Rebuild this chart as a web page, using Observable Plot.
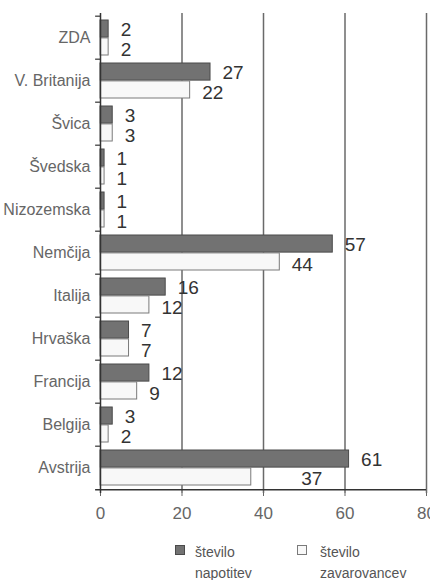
<!DOCTYPE html>
<html>
<head>
<meta charset="utf-8">
<script src="https://cdn.jsdelivr.net/npm/d3@7"></script>
<script src="https://cdn.jsdelivr.net/npm/@observablehq/plot@0.6"></script>
<style>
  html, body { margin: 0; padding: 0; background: #fff; overflow: hidden; }
  #wrap { position: relative; width: 430px; height: 580px; font-family: "Liberation Sans", Arial, sans-serif; }
  [aria-label^="x-axis"] text { font-size: 17px; }
  .legend-item { position: absolute; font-size: 14px; line-height: 21px; color: #555; }
  .legend-swatch { position: absolute; width: 8px; height: 8px; }
</style>
</head>
<body>
<div id="wrap">
  <div id="chart"></div>
</div>
<script>
// Countries from top to bottom
const countries = ["ZDA", "V. Britanija", "Švica", "Švedska", "Nizozemska", "Nemčija", "Italija", "Hrvaška", "Francija", "Belgija", "Avstrija"];
// število napotitev (dark bars)
const napotitve = [2, 27, 3, 1, 1, 57, 16, 7, 12, 3, 61];
// število zavarovancev (white bars)
const zavarovanci = [2, 22, 3, 1, 1, 44, 12, 7, 9, 2, 37];
const xTicks = [0, 20, 40, 60, 80];
const seriesNames = ["število\nnapotitev", "število\nzavarovancev"];

const rows = countries.map((c, i) => ({country: c, nap: napotitve[i], zav: zavarovanci[i]}));

const height = 532, marginTop = 13, marginBottom = 39;
const pInner = 0.18, pOuter = 0.09;
const step = (height - marginTop - marginBottom) / (countries.length - pInner + 2 * pOuter);
const half = step * (1 - pInner) / 2;

const darkFill = "#727272", darkStroke = "#4a4a4a";
const lightFill = "#f8f8f8", lightStroke = "#7a7a7a";

const chart = Plot.plot({
  width: 430,
  height,
  marginTop,
  marginBottom,
  marginLeft: 100,
  marginRight: 4,
  style: {fontFamily: "Liberation Sans, Arial, sans-serif", fontSize: "16px", color: "#666", background: "#fff"},
  x: {domain: [0, 80], ticks: xTicks, tickSize: 3, tickPadding: 10, label: null},
  y: {domain: countries, paddingInner: pInner, paddingOuter: pOuter, tickSize: 0, tickPadding: 10, label: null},
  marks: [
    // vertical grid
    Plot.ruleX(xTicks.slice(1), {stroke: "#6a6a6a", strokeWidth: 1.5}),
    // bars
    Plot.barX(rows, {x: "nap", y: "country", fill: darkFill, stroke: darkStroke, strokeWidth: 1, insetBottom: half}),
    Plot.barX(rows, {x: "zav", y: "country", fill: lightFill, stroke: lightStroke, strokeWidth: 1, insetTop: half}),
    // value labels
    Plot.text(rows, {x: "nap", y: "country", text: d => String(d.nap), dx: 12, dy: -half / 2 + 1, textAnchor: "start", fontSize: 19, fill: "#333"}),
    Plot.text(rows.filter(d => d.country !== "Avstrija"), {x: "zav", y: "country", text: d => String(d.zav), dx: 12, dy: half / 2 + 3, textAnchor: "start", fontSize: 19, fill: "#333"}),
    Plot.text(rows.filter(d => d.country === "Avstrija"), {x: "zav", y: "country", text: d => String(d.zav), dx: 50, dy: half / 2 + 2, textAnchor: "start", fontSize: 19, fill: "#333"}),
    // y axis line and band boundary ticks
    Plot.ruleX([0], {stroke: "#333", strokeWidth: 1.5}),
    Plot.ruleY(countries, {y: d => d, x1: -1.2, x2: 0, dy: -step / 2, stroke: "#333", strokeWidth: 1.2}),
    // bottom axis line
    Plot.ruleY(countries.slice(-1), {y: d => d, x1: -1.2, x2: 80, dy: step / 2, stroke: "#333", strokeWidth: 1.5})
  ]
});
document.getElementById("chart").appendChild(chart);

// legend below the chart
const wrap = document.getElementById("wrap");
const legendItems = [
  {label: seriesNames[0], fill: darkFill, stroke: darkStroke, left: 175, text: 195},
  {label: seriesNames[1], fill: lightFill, stroke: lightStroke, left: 297, text: 320}
];
for (const it of legendItems) {
  const sw = document.createElement("div");
  sw.className = "legend-swatch";
  sw.style.left = it.left + "px";
  sw.style.top = "545px";
  sw.style.background = it.fill;
  sw.style.border = "1px solid " + it.stroke;
  wrap.appendChild(sw);
  const tx = document.createElement("div");
  tx.className = "legend-item";
  tx.style.left = it.text + "px";
  tx.style.top = "542px";
  tx.innerHTML = it.label.split("\n").join("<br>");
  wrap.appendChild(tx);
}
</script>
</body>
</html>
